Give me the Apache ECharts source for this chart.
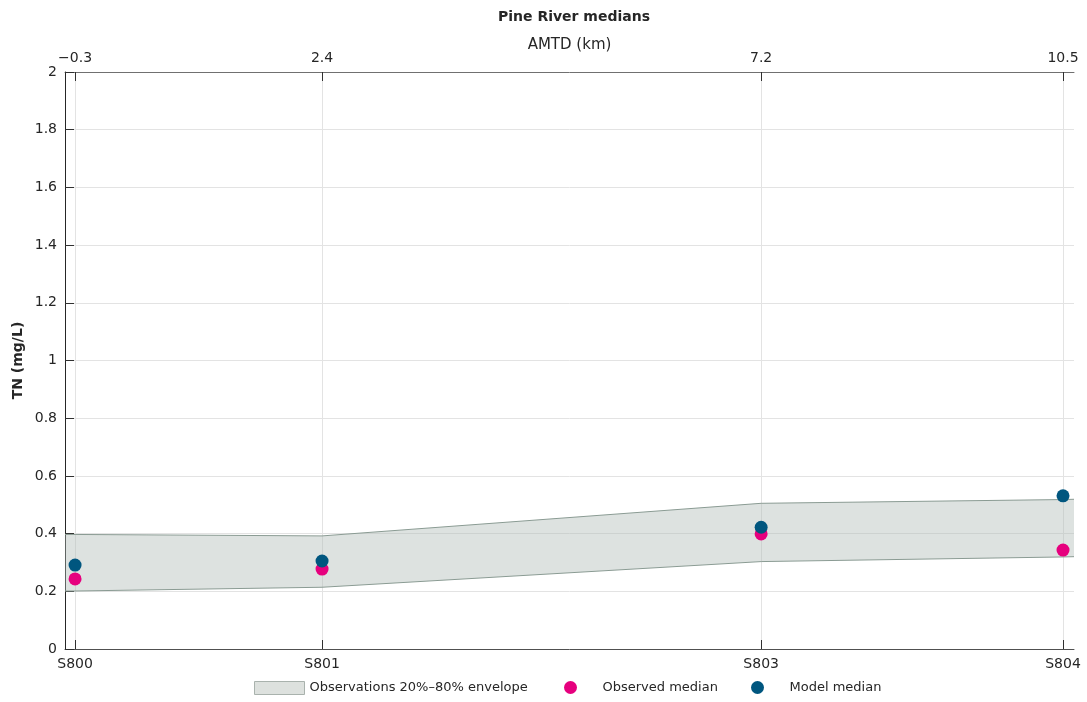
<!DOCTYPE html>
<html>
<head>
<meta charset="utf-8">
<script src="https://cdn.jsdelivr.net/npm/echarts@6/dist/echarts.min.js"></script>
<style>html,body{margin:0;padding:0;background:#fff;}#c{width:1087px;height:702px;}</style>
</head>
<body>
<div id="c"></div>
<script>
// ---- data ----
const stations = ['S800', 'S801', 'S803', 'S804'];
const amtd = [-0.3, 2.4, 7.2, 10.5];
const amtdLabels = ['\u22120.3', '2.4', '7.2', '10.5'];
const observedMedian = [0.243, 0.277, 0.399, 0.343];
const modelMedian = [0.291, 0.305, 0.422, 0.531];
// envelope (20%-80%), extended to the plot edges
const envX = [-0.41, -0.3, 2.4, 7.2, 10.5, 10.62];
const envUpper = [0.397, 0.397, 0.392, 0.505, 0.518, 0.519];
const envLower = [0.201, 0.201, 0.214, 0.303, 0.319, 0.320];

const textColor = '#262626';
const fontFamily = 'DejaVu Sans';
const chart = echarts.init(document.getElementById('c'), null, {renderer: 'canvas'});

const obsData = amtd.map((x, i) => [x, observedMedian[i]]);
const modData = amtd.map((x, i) => [x, modelMedian[i]]);

chart.setOption({
  animation: false,
  textStyle: {fontFamily: fontFamily, color: textColor},
  title: {
    text: 'Pine River medians', left: 493, top: 5,
    textStyle: {fontSize: 14, fontWeight: 'bold', color: textColor, fontFamily: fontFamily}
  },
  grid: {left: 65, right: 13, top: 72, bottom: 53, outerBoundsMode: 'none', containLabel: false},
  legend: [
    {left: 249, top: 676, itemWidth: 50, itemHeight: 13, itemGap: 0,
     textStyle: {fontSize: 13, color: textColor, fontFamily: fontFamily},
     data: [{name: 'Observations 20%\u201380% envelope', icon: 'rect',
             itemStyle: {color: '#DDE1DE', borderColor: '#A9B2AD', borderWidth: 1}}]},
    {left: 559, top: 676, itemWidth: 54, itemHeight: 13, itemGap: 0,
     textStyle: {fontSize: 13, color: textColor, fontFamily: fontFamily},
     data: [{name: 'Observed median', icon: 'circle'}]},
    {left: 746, top: 676, itemWidth: 54, itemHeight: 13, itemGap: 0,
     textStyle: {fontSize: 13, color: textColor, fontFamily: fontFamily},
     data: [{name: 'Model median', icon: 'circle'}]}
  ],
  xAxis: [
    {
      type: 'value', position: 'bottom', min: -0.41, max: 10.62,
      axisLine: {show: true, onZero: false, lineStyle: {color: '#505050', width: 1}},
      axisTick: {show: true, inside: true, length: 9, customValues: amtd, lineStyle: {color: '#303030'}},
      axisLabel: {customValues: amtd, fontSize: 14, color: textColor, margin: 8,
                  formatter: v => stations[amtd.indexOf(v)] ?? ''},
      splitLine: {show: true, lineStyle: {color: '#E3E3E3', width: 1}}
    },
    {
      type: 'value', position: 'top', min: -0.41, max: 10.62,
      name: 'AMTD (km)', nameLocation: 'middle', nameGap: 19, nameMoveOverlap: false,
      nameTextStyle: {fontSize: 15, color: textColor, fontFamily: fontFamily},
      axisLine: {show: true, onZero: false, lineStyle: {color: '#707070', width: 1}},
      axisTick: {show: true, inside: true, length: 9, customValues: amtd, lineStyle: {color: '#303030'}},
      axisLabel: {customValues: amtd, fontSize: 14, color: textColor, margin: 7,
                  formatter: v => amtdLabels[amtd.indexOf(v)] ?? ''},
      splitLine: {show: false}
    }
  ],
  yAxis: {
    type: 'value', min: 0, max: 2, interval: 0.2,
    name: 'TN (mg/L)', nameLocation: 'middle', nameGap: 40, nameMoveOverlap: false,
    nameTextStyle: {fontSize: 14, fontWeight: 'bold', color: textColor, fontFamily: fontFamily},
    axisLine: {show: true, onZero: false, lineStyle: {color: '#262626', width: 1}},
    axisTick: {show: true, inside: true, length: 9, lineStyle: {color: '#303030'}},
    axisLabel: {fontSize: 14, color: textColor, margin: 8,
                formatter: v => String(+v.toFixed(1))},
    splitLine: {show: true, lineStyle: {color: '#E3E3E3', width: 1}}
  },
  series: [
    {
      name: 'Observations 20%\u201380% envelope',
      type: 'custom', xAxisIndex: 0, yAxisIndex: 0, clip: true, z: 1,
      itemStyle: {color: '#DDE1DE'},
      data: [[envX[0], envLower[0]]],
      renderItem: function (params, api) {
        const up = envX.map((x, i) => api.coord([x, envUpper[i]]));
        const lo = envX.map((x, i) => api.coord([x, envLower[i]])).reverse();
        return {
          type: 'group',
          children: [
            {type: 'polygon', shape: {points: up.concat(lo)},
             style: {fill: 'rgba(175,187,180,0.42)', stroke: null}},
            {type: 'polyline', shape: {points: up},
             style: {fill: null, stroke: '#8A9B93', lineWidth: 1}},
            {type: 'polyline', shape: {points: lo},
             style: {fill: null, stroke: '#8A9B93', lineWidth: 1}}
          ]
        };
      }
    },
    {
      name: 'Observed median', type: 'scatter', xAxisIndex: 0, z: 3,
      symbol: 'circle', symbolSize: 13,
      itemStyle: {color: '#E6007E', opacity: 1},
      data: obsData
    },
    {
      name: 'Model median', type: 'scatter', xAxisIndex: 0, z: 4,
      symbol: 'circle', symbolSize: 13,
      itemStyle: {color: '#00567F', opacity: 1},
      data: modData
    }
  ]
});
</script>
</body>
</html>
